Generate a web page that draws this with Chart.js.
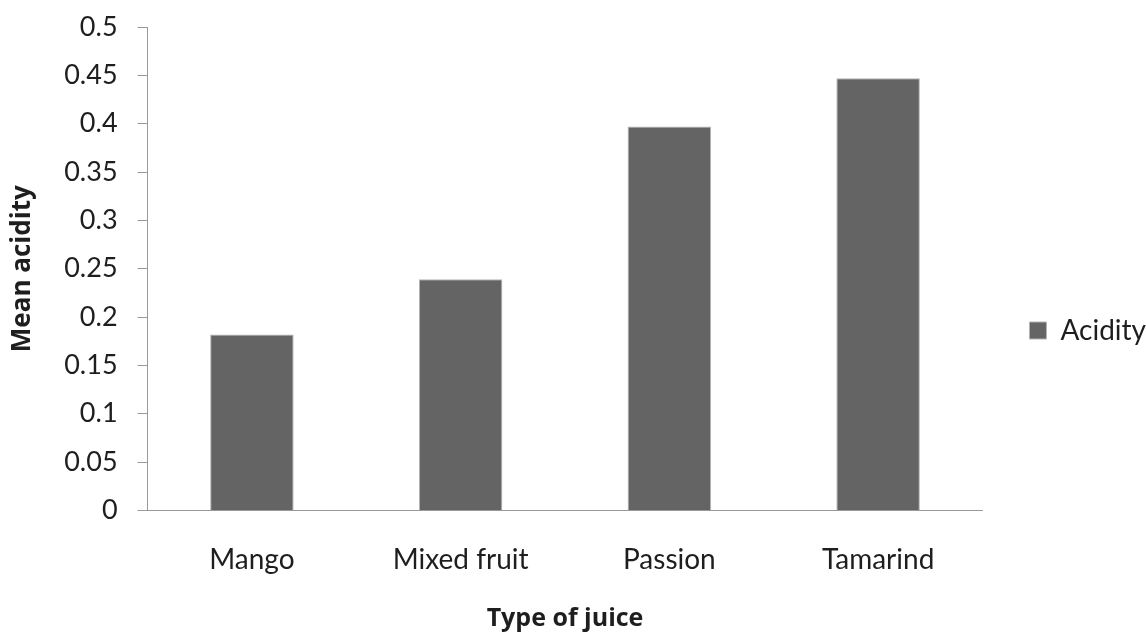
<!DOCTYPE html>
<html>
<head>
<meta charset="utf-8">
<title>Mean acidity by type of juice</title>
<script src="https://cdn.jsdelivr.net/npm/chart.js@4/dist/chart.umd.min.js"></script>
<style>
  html, body { margin: 0; padding: 0; background: #ffffff; }
  #wrap { width: 1146px; height: 634px; }
</style>
</head>
<body>
<div id="wrap"><canvas id="chart" width="1146" height="634"></canvas></div>
<script>
// Juice types along the x axis
const juiceTypes = ['Mango', 'Mixed fruit', 'Passion', 'Tamarind'];
// Mean acidity per juice type
const acidity = [0.182, 0.239, 0.397, 0.447];
// Value axis range and spacing
const yMin = 0;
const yMax = 0.5;
const yStep = 0.05;

const FONT = 'Lato, "Open Sans", sans-serif';
const TITLE_FONT = '"Open Sans", Lato, sans-serif';
const AXIS_GREY = '#999999';
const TEXT = '#1e1e1e';

Chart.defaults.font.family = FONT;
Chart.defaults.color = TEXT;

new Chart(document.getElementById('chart'), {
  type: 'bar',
  data: {
    labels: juiceTypes,
    datasets: [{
      label: 'Acidity',
      data: acidity,
      backgroundColor: '#646464',
      borderColor: '#b4b4b4',
      borderWidth: 1,
      categoryPercentage: 1.0,
      barPercentage: 0.4
    }]
  },
  options: {
    responsive: false,
    animation: false,
    layout: { padding: { top: 27, right: -10, bottom: 0, left: 0 } },
    plugins: {
      tooltip: { enabled: false },
      legend: {
        position: 'right',
        align: 'center',
        labels: {
          boxWidth: 17,
          boxHeight: 17,
          padding: 47,
          font: { size: 28, family: FONT },
          color: TEXT
        }
      }
    },
    scales: {
      x: {
        grid: { display: false, drawTicks: false },
        border: { display: true, color: AXIS_GREY, width: 1 },
        ticks: {
          padding: 33,
          maxRotation: 0,
          font: { size: 28, family: FONT },
          color: TEXT
        },
        title: {
          display: true,
          text: 'Type of juice',
          font: { size: 25, weight: 'bold', family: TITLE_FONT },
          color: TEXT,
          padding: { top: -6, bottom: 0 }
        }
      },
      y: {
        min: yMin,
        max: yMax,
        grid: {
          display: true,
          drawOnChartArea: false,
          drawTicks: true,
          tickLength: 10,
          color: AXIS_GREY
        },
        border: { display: true, color: AXIS_GREY, width: 1 },
        ticks: {
          stepSize: yStep,
          padding: 20,
          font: { size: 27, family: FONT, lineHeight: 0.5 },
          color: TEXT,
          callback: (v) => String(Number(v.toFixed(2)))
        },
        title: {
          display: true,
          text: 'Mean acidity',
          font: { size: 26, weight: 'bold', family: TITLE_FONT },
          color: TEXT,
          padding: { top: 7, bottom: 6 }
        }
      }
    }
  }
});
</script>
</body>
</html>
